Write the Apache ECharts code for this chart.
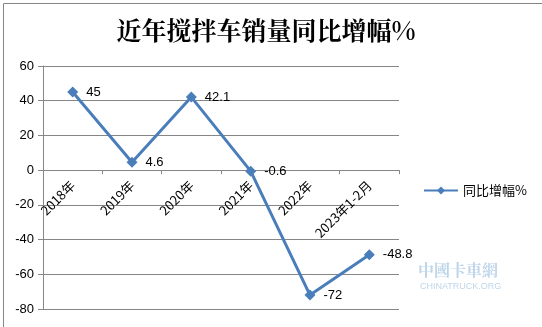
<!DOCTYPE html>
<html><head><meta charset="utf-8">
<script src="https://cdn.jsdelivr.net/npm/echarts@6/dist/echarts.min.js"></script>
<style>html,body{margin:0;padding:0;background:#fff}#c{width:542px;height:327px}</style>
</head><body><div id="c"></div>
<script>
const categories = ['2018年','2019年','2020年','2021年','2022年','2023年1-2月'];
const values = [45, 4.6, 42.1, -0.6, -72, -48.8];
const seriesName = '同比增幅%';
const titleText = '近年搅拌车销量同比增幅%';
const yTicks = {min: -80, max: 60, interval: 20};

const gridTop = 66, gridBottom = 18, H = 327;
const plotH = H - gridTop - gridBottom;
const zeroOffset = -(0 - yTicks.min) / (yTicks.max - yTicks.min) * plotH;

const chart = echarts.init(document.getElementById('c'), null, {renderer: 'canvas'});
chart.setOption({
  backgroundColor: '#fff',
  animation: false,
  title: {
    text: titleText, left: 261, top: 13, textAlign: 'center',
    textStyle: {fontFamily: 'Noto Serif CJK SC, "Noto Sans CJK SC", serif', fontSize: 25, fontWeight: 'bold', color: '#000'}
  },
  legend: {
    data: [seriesName], left: 418, top: 179, itemWidth: 34, itemHeight: 10, itemGap: 3,
    textStyle: {fontFamily: '"Noto Sans CJK SC", sans-serif', fontSize: 13, color: '#000'}
  },
  grid: {left: 43, right: 143, top: gridTop, bottom: gridBottom, containLabel: false, outerBoundsMode: 'none'},
  xAxis: {
    type: 'category', data: categories, boundaryGap: true, position: 'bottom', offset: zeroOffset,
    axisLine: {onZero: false, lineStyle: {color: '#868686', width: 1}},
    axisTick: {show: true, alignWithLabel: false, length: 4, lineStyle: {color: '#868686'}},
    axisLabel: {rotate: 45, interval: 0, fontFamily: '"Noto Sans CJK SC", sans-serif', fontSize: 13, color: '#000', margin: 13},
    splitLine: {show: false}
  },
  yAxis: {
    type: 'value', min: yTicks.min, max: yTicks.max, interval: yTicks.interval,
    axisLine: {show: true, lineStyle: {color: '#868686'}},
    axisTick: {show: true, length: 5, lineStyle: {color: '#868686'}},
    axisLabel: {fontFamily: 'Arial, "Liberation Sans", sans-serif', fontSize: 13, color: '#000', margin: 9},
    splitLine: {show: true, lineStyle: {color: '#868686', width: 1}}
  },
  series: [{
    name: seriesName, type: 'line', data: values,
    symbol: 'diamond', symbolSize: 11,
    lineStyle: {color: '#4A7EBB', width: 3},
    itemStyle: {color: '#4A7EBB'},
    label: {show: true, position: 'right', distance: 8, fontFamily: 'Arial, "Liberation Sans", sans-serif', fontSize: 13, color: '#000'}
  }],
  graphic: [
    {type: 'rect', left: 1, top: 1, shape: {width: 539, height: 324}, style: {fill: 'none', stroke: '#868686', lineWidth: 1}, silent: true},
    {type: 'text', left: 418, top: 262, style: {text: '中國卡車網', fontSize: 16, fill: 'rgba(90,150,200,0.4)', fontFamily: '"Noto Serif CJK SC", serif', fontWeight: 'bold'}},
    {type: 'text', left: 420, top: 282, style: {text: 'CHINATRUCK.ORG', fontSize: 9, fill: 'rgba(90,150,200,0.4)', fontFamily: 'Arial'}}
  ]
});
</script></body></html>
